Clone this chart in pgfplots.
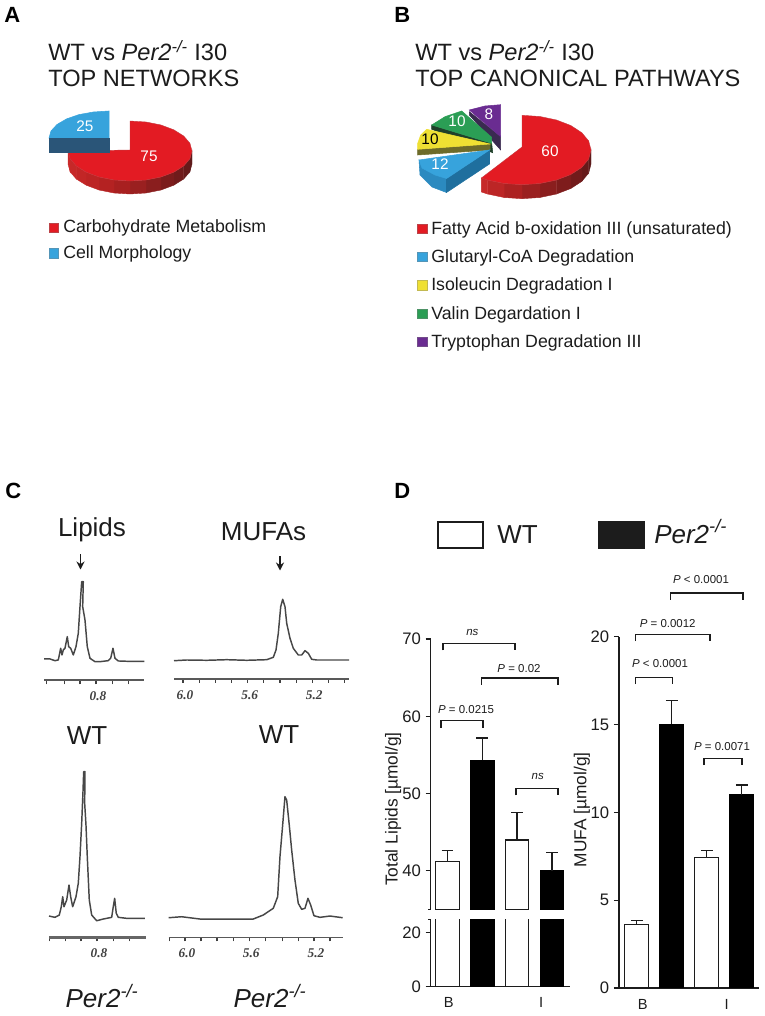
\documentclass[border=0pt]{standalone}
\usepackage{pgfplots}
\pgfplotsset{compat=1.18}
\usepackage{fontspec}
\setmainfont{Liberation Sans}
\newfontfamily\serifbi{Liberation Serif}
\usetikzlibrary{arrows.meta}
\newcommand\fs[1]{\fontsize{#1}{#1}\selectfont}
\newcommand\hx[1]{\definecolor{#1}{HTML}{#1}}
\hx{5E1A1A}\hx{661A1A}\hx{701B1B}\hx{7C1C1C}\hx{8A1E1E}\hx{9A2020}\hx{A82020}\hx{B42222}\hx{BC2424}\hx{C22626}\hx{C62828}\hx{CA2A2A}
\hx{5C1A1A}\hx{721B1B}\hx{7E1C1C}\hx{AC2222}\hx{BC2626}\hx{C62A2A}\hx{2A5578}\hx{3A2A50}\hx{20402A}\hx{6D6B2A}\hx{2B8AC0}\hx{1F6F9E}
\definecolor{ink}{HTML}{1C1C1C}
\definecolor{pred}{HTML}{E31B23}
\definecolor{pblue}{HTML}{37A3DC}
\definecolor{pyel}{HTML}{EFE033}
\definecolor{pgrn}{HTML}{2B9E55}
\definecolor{ppur}{HTML}{6A2C91}
\newcommand\sq[2]{\addplot[fill=#1,draw=#1!60!gray,line width=0.6pt] coordinates {#2} -- cycle;}
\newcommand\ktxt[4]{\node[anchor=base west,inner sep=0,text=ink,font=\fs{#3}] at (axis cs:#1,#2) {#4};}
\newcommand\ctxt[4]{\node[anchor=center,inner sep=0,text=ink,font=\fs{#3}] at (axis cs:#1,#2) {#4};}
\newcommand\brk[1]{\addplot[line width=0.9pt,draw=ink] coordinates {#1};}
\newcommand\strip[2]{\addplot[fill=#1,draw=#1,line width=0.3pt] coordinates {#2} -- cycle;}
\pgfplotsset{
  spectrum/.style={scale only axis,anchor=south west,axis y line=none,axis x line*=bottom,y dir=reverse,
    clip=false,tick align=outside,x tick style={draw=black!75,line width=0.8pt},
    major tick length=3pt,
    xticklabel style={font=\serifbi\bfseries\itshape\fs{10},text=black!75,xshift=1.5pt,yshift=-2pt},
    x axis line style={draw=black!65,line width=1.6pt}},
  spec/.style={line width=1.1pt,draw=black!72,line join=round},
  barax/.style={scale only axis,anchor=south west,ybar,axis y line*=left,tick align=outside,
    y tick style={line width=0.9pt,draw=ink},major tick length=3.8pt,
    y axis line style={line width=1pt,draw=ink},
    yticklabel style={font=\fs{12.5},text=ink},
    /pgf/number format/assume math mode=true},
  wbar/.style={bar shift=0pt,fill=white,draw=ink,line width=1pt},
  kbar/.style={bar shift=0pt,fill=black,draw=black,line width=1pt},
  err/.style={error bars/.cd,y dir=plus,y explicit,
    error bar style={line width=1pt,draw=ink},
    error mark options={rotate=90,mark size=4.4pt,line width=1pt,draw=ink}},
}
\begin{document}
\begin{tikzpicture}
\useasboundingbox (0pt,0pt) rectangle (573pt,762pt);
% ---------- overlay in pixel coordinates
\begin{axis}[at={(0pt,0pt)},anchor=south west,scale only axis,width=573pt,height=762pt,
  xmin=0,xmax=764,ymin=0,ymax=1016,y dir=reverse,hide axis,clip=false]
% Pie A side
\strip{5E1A1A}{(192,151)(189.9,158.8)(189.9,171.8)(192,164)}
\strip{661A1A}{(189.9,158.8)(183.7,166)(183.7,179)(189.9,171.8)}
\strip{701B1B}{(183.7,166)(173.8,172.2)(173.8,185.2)(183.7,179)}
\strip{7C1C1C}{(173.8,172.2)(161,177)(161,190)(173.8,185.2)}
\strip{8A1E1E}{(161,177)(146,180)(146,193)(161,190)}
\strip{9A2020}{(146,180)(130,181)(130,194)(146,193)}
\strip{A82020}{(130,181)(114,180)(114,193)(130,194)}
\strip{B42222}{(114,180)(99,177)(99,190)(114,193)}
\strip{BC2424}{(99,177)(86.2,172.2)(86.2,185.2)(99,190)}
\strip{C22626}{(86.2,172.2)(76.3,166)(76.3,179)(86.2,185.2)}
\strip{C62828}{(76.3,166)(70.1,158.8)(70.1,171.8)(76.3,179)}
\strip{CA2A2A}{(70.1,158.8)(68,151)(68,164)(70.1,171.8)}
% Pie A top red
\addplot[fill=pred,draw=pred!70!gray,line width=0.3pt] coordinates {(130,121)(146,122)(161,125)(173.8,129.8)(183.7,136)(189.9,143.2)(192,151)(189.9,158.8)(183.7,166)(173.8,172.2)(161,177)(146,180)(130,181)(114,180)(99,177)(86.2,172.2)(76.3,166)(70.1,158.8)(68,151)(130,150)} -- cycle;
% Pie A blue
\addplot[fill=pblue,draw=pblue] coordinates {(109,111)(93.5,112)(79,114.6)(66.6,118.9)(57,124.5)(51,131)(49,138)(109,138)} -- cycle;
\addplot[fill=2A5578,draw=2A5578] coordinates {(49,138)(109,138)(109,152)(49,152)} -- cycle;
% Pie B side
\strip{5C1A1A}{(591,150)(588.7,159)(588.7,173)(591,164)}
\strip{661A1A}{(588.7,159)(581.8,167.4)(581.8,181.4)(588.7,173)}
\strip{721B1B}{(581.8,167.4)(570.8,174.5)(570.8,188.5)(581.8,181.4)}
\strip{7E1C1C}{(570.8,174.5)(556.5,180)(556.5,194)(570.8,188.5)}
\strip{8A1E1E}{(556.5,180)(539.9,183.5)(539.9,197.5)(556.5,194)}
\strip{9A2020}{(539.9,183.5)(522,184.7)(522,198.7)(539.9,197.5)}
\strip{AC2222}{(522,184.7)(504.1,183.5)(504.1,197.5)(522,198.7)}
\strip{BC2626}{(504.1,183.5)(487.5,180)(487.5,194)(504.1,197.5)}
\strip{C62A2A}{(487.5,180)(481.4,178)(481.4,192)(487.5,194)}
% Pie B red top
\addplot[fill=pred,draw=pred!70!gray,line width=0.3pt] coordinates {(522,115.3)(539.9,116.5)(556.5,120)(570.8,125.5)(581.8,132.7)(588.7,141)(591,150)(588.7,159)(581.8,167.4)(570.8,174.5)(556.5,180)(539.9,183.5)(522,184.7)(504.1,183.5)(487.5,180)(481.4,178)(522,147)} -- cycle;
% Purple
\addplot[fill=3A2A50,draw=3A2A50] coordinates {(469.3,111.7)(500.7,136.7)(500.7,150)(469.3,115)} -- cycle;
\addplot[fill=ppur,draw=ppur] coordinates {(469.3,110)(485,106)(500.7,104.7)(500.7,136.7)} -- cycle;
% Green
\addplot[fill=20402A,draw=20402A] coordinates {(431.7,125)(491.7,143.3)(492.7,152.7)(431.7,129.3)} -- cycle;
\addplot[fill=pgrn,draw=pgrn] coordinates {(431.7,125)(445,116.7)(461.7,111)(491.7,137.3)(491.7,143.3)} -- cycle;
% Yellow
\addplot[fill=6D6B2A,draw=6D6B2A] coordinates {(417.7,149.3)(490,144)(490,150)(417.7,155)} -- cycle;
\addplot[fill=pyel,draw=pyel] coordinates {(490,144)(426.7,129.3)(420.7,135)(417.7,143.3)(417.7,149.3)} -- cycle;
% Blue
\addplot[fill=2B8AC0,draw=2B8AC0] coordinates {(419,160)(420,175)(432,187)(446.5,192.5)(446.5,178.5)} -- cycle;
\addplot[fill=1F6F9E,draw=1F6F9E] coordinates {(446.5,178.5)(489.5,150)(489.5,164)(446.5,192.5)} -- cycle;
\addplot[fill=pblue,draw=pblue] coordinates {(489.5,150)(419,160)(422,168)(435,175)(446.5,178.5)} -- cycle;
% Pie numbers
\node[text=white,font=\fs{11.5}] at (axis cs:85,126) {25};
\node[text=white,font=\fs{11.5}] at (axis cs:149,156) {75};
\node[text=white,font=\fs{11.5}] at (axis cs:550,151) {60};
\node[text=white,font=\fs{11.5}] at (axis cs:440,164) {12};
\node[text=black,font=\fs{11.5}] at (axis cs:430,139) {10};
\node[text=white,font=\fs{11.5}] at (axis cs:457,121) {10};
\node[text=white,font=\fs{11.5}] at (axis cs:489,114) {8};
% Legend squares
\sq{pred}{(49,223)(58,223)(58,232)(49,232)}
\sq{pblue}{(49,248)(58,248)(58,258)(49,258)}
\sq{pred}{(417,224)(427,224)(427,233)(417,233)}
\sq{pblue}{(417,252)(427,252)(427,261)(417,261)}
\sq{pyel}{(417,280)(427,280)(427,290)(417,290)}
\sq{pgrn}{(417,309)(427,309)(427,318)(417,318)}
\sq{ppur}{(417,337)(427,337)(427,346)(417,346)}
% Panel letters
\node[anchor=base west,inner sep=0,text=black,font=\bfseries\fs{16.5}] at (axis cs:4,23) {A};
\node[anchor=base west,inner sep=0,text=black,font=\bfseries\fs{16.5}] at (axis cs:394,23) {B};
\node[anchor=base west,inner sep=0,text=black,font=\bfseries\fs{16.5}] at (axis cs:5,498) {C};
\node[anchor=base west,inner sep=0,text=black,font=\bfseries\fs{16.5}] at (axis cs:394,498) {D};
% Titles
\ktxt{48}{60.7}{17.7}{WT vs \textit{Per2\textsuperscript{-/-}} I30}
\ktxt{48}{87}{17.7}{TOP NETWORKS}
\ktxt{415}{60.7}{17.7}{WT vs \textit{Per2\textsuperscript{-/-}} I30}
\ktxt{415}{87}{17.7}{TOP CANONICAL PATHWAYS}
% Legends
\ktxt{63}{232.5}{13.3}{Carbohydrate Metabolism}
\ktxt{63}{258.5}{13.3}{Cell Morphology}
\ktxt{431}{234.3}{13.3}{Fatty Acid b-oxidation III (unsaturated)}
\ktxt{431}{262.3}{13.3}{Glutaryl-CoA Degradation}
\ktxt{431}{290.7}{13.3}{Isoleucin Degradation I}
\ktxt{431}{319.3}{13.3}{Valin Degardation I}
\ktxt{431}{347.7}{13.3}{Tryptophan Degradation III}
% Panel C text
\ctxt{92}{530}{19.5}{Lipids}
\ctxt{263.5}{532}{19.5}{MUFAs}
\ctxt{87}{736}{19.5}{WT}
\ctxt{279}{735}{19.5}{WT}
\ctxt{102}{996}{19.5}{\textit{Per2\textsuperscript{-/-}}}
\ctxt{270}{996}{19.5}{\textit{Per2\textsuperscript{-/-}}}
\draw[-{Stealth[length=6pt,width=6pt]},line width=0.9pt,draw=ink] (axis cs:80.5,554) -- (axis cs:80.5,569.5);
\draw[-{Stealth[length=6pt,width=6pt]},line width=0.9pt,draw=ink] (axis cs:280,556) -- (axis cs:280,570.5);
% Panel D legend
\addplot[fill=white,draw=ink,line width=1.5pt] coordinates {(437.5,521.5)(483,521.5)(483,548)(437.5,548)} -- cycle;
\addplot[fill=ink,draw=ink,line width=1.5pt] coordinates {(598.5,521.5)(644,521.5)(644,548)(598.5,548)} -- cycle;
\ktxt{497}{543}{19.5}{WT}
\ktxt{654}{543}{19.5}{\textit{Per2\textsuperscript{-/-}}}
% Brackets left
\brk{(443,650.3)(443,643.7)(515,643.7)(515,650.3)}
\brk{(481.7,684.7)(481.7,678)(558,678)(558,684.7)}
\brk{(441,727.7)(441,720.7)(483,720.7)(483,727.7)}
\brk{(516,795.3)(516,788.3)(558,788.3)(558,795.3)}
\ctxt{472.3}{632.7}{8.6}{\textit{ns}}
\ctxt{519}{668.7}{8.6}{\textit{P} = 0.02}
\ctxt{466}{709.7}{8.6}{\textit{P} = 0.0215}
\ctxt{537.7}{776.7}{8.6}{\textit{ns}}
% Brackets right
\brk{(670.3,599.7)(670.3,593)(743,593)(743,599.7)}
\brk{(635.3,641)(635.3,634.7)(710,634.7)(710,641)}
\brk{(635.3,684)(635.3,677.3)(672.7,677.3)(672.7,684)}
\brk{(704,765)(704,758.3)(742,758.3)(742,765)}
\ctxt{701}{579.3}{8.6}{\textit{P} < 0.0001}
\ctxt{667.7}{623.7}{8.6}{\textit{P} = 0.0012}
\ctxt{660}{664}{8.6}{\textit{P} < 0.0001}
\ctxt{722}{746.7}{8.6}{\textit{P} = 0.0071}
\end{axis}
% ---------- Spectra
\begin{axis}[spectrum,at={(33pt,251.8pt)},width=75.2pt,height=82.7pt,xmin=44,xmax=144.3,ymin=570,ymax=680.3,
  xtick={46.7,64.3,80,96,112.7,128.3},xticklabels={{},{},{},0.8,{},{}}]
\addplot[spec] coordinates {(44,659)(50,659)(55,660.7)(58.3,660)(60.7,648.3)(62,655)(63.3,650)(65,648.3)(67.3,636.7)(68.7,646.7)(70.7,648.3)(73.3,655)(76,646.7)(78.3,633.3)(80,606.7)(81.7,581.7)(83.3,581.7)(82.7,606.7)(85,620)(87.3,646.7)(90,658.3)(95,661.7)(100,661.7)(108.3,660.7)(110.7,658.3)(113,648.3)(115,658.3)(118.3,661)(126.7,661.3)(144.3,661.3)};
\end{axis}
\begin{axis}[spectrum,at={(130.5pt,252.75pt)},width=131.25pt,height=66.75pt,xmin=174,xmax=349,ymin=590,ymax=679,
  xtick={183,199.2,215.3,231.5,247.7,263.8,280,296.2,312.3,328.5,344.7},xticklabels={6.0,{},{},{},5.6,{},{},{},5.2,{},{}}]
\addplot[spec] coordinates {(174,660.7)(186.7,660)(206.7,660.3)(226.7,659.7)(246.7,660.3)(266.7,659.7)(273.3,657.3)(276,650)(278.3,633.3)(280.7,606.7)(282.7,599.3)(285,606.7)(286.7,623.3)(290,638.3)(293.3,648.3)(298.3,655)(301.7,655)(305,650.7)(308.3,653.3)(311.7,659.3)(316.7,660)(333.3,660)(349,660)};
\end{axis}
\begin{axis}[spectrum,at={(36.75pt,59pt)},width=72.5pt,height=133pt,xmin=49,xmax=145.7,ymin=760,ymax=937.3,
  x axis line style={draw=black!60,line width=2.2pt},
  xtick={49.3,65.3,81,97,113.7,129.7},xticklabels={{},{},{},0.8,{},{}}]
\addplot[spec] coordinates {(49,916)(55,917.3)(59.3,915)(61.3,906.7)(62.7,896.7)(64,906.7)(66.7,900)(69,885)(70.7,896.7)(72.7,906.7)(76,896.7)(78.3,883.3)(80,856.7)(81.7,823.3)(83,791.7)(83.7,771.7)(85,771.7)(84.7,803.3)(86,825)(87.3,856.7)(89.3,900)(91.7,915)(96.7,920.7)(103.3,919)(111.7,917.3)(113.3,906.7)(114.7,898.3)(116.3,913.3)(118.3,917.3)(126.7,918.3)(145,918.3)};
\end{axis}
\begin{axis}[spectrum,at={(126.5pt,59pt)},width=130.5pt,height=118pt,xmin=168.7,xmax=342.7,ymin=780,ymax=937.3,
  x axis line style={draw=black!65,line width=0.9pt},
  xtick={169.3,185,201,217,233.3,249.3,265.7,282.3,298.3,314,330},xticklabels={{},6.0,{},{},{},5.6,{},{},{},5.2,{}}]
\addplot[spec] coordinates {(168.7,917.7)(181.7,916.7)(200,919)(226.7,919)(253.3,919)(263.3,915)(273.3,908.3)(277.7,896.7)(280,856.7)(282.7,825)(285,796.7)(286.7,800)(289.3,825)(291.7,850)(295,880)(298.3,903.3)(301.7,909.3)(305,908.3)(308,898.3)(310.7,905)(314,915.7)(320,917.3)(330,916)(342.7,917.7)};
\end{axis}
% ---------- Total lipids: upper part of the broken axis
\begin{axis}[barax,at={(323pt,80pt)},width=104.5pt,height=202.7pt,bar width=17.6pt,
  axis x line=none,xmin=-0.483,xmax=3.52,ymin=35,ymax=70,ytick={40,50,60,70},
  extra y ticks={35},extra y tick labels={},extra y tick style={major tick length=2pt},
  ylabel={Total Lipids [µmol/g]},
  every axis y label/.style={at={(axis description cs:-0.27,0.371)},rotate=90,anchor=center,font=\fs{13},text=ink}]
\addplot[wbar,err] coordinates {(0,41.2)+-(0,1.4) (2,44)+-(0,3.5)};
\addplot[kbar,err] coordinates {(1,54.3)+-(0,2.9) (3,40)+-(0,2.4)};
\end{axis}
% Total lipids: lower part
\begin{axis}[barax,at={(323pt,22pt)},width=104.5pt,height=50.55pt,bar width=17.6pt,
  axis x line*=bottom,x axis line style={line width=1pt,draw=ink},x tick style={draw=none},
  xmin=-0.483,xmax=3.52,ymin=0,ymax=25,ytick={0,20},
  extra y ticks={25},extra y tick labels={},extra y tick style={major tick length=2pt},
  xtick={0.04,2.69},xticklabels={B,I},xticklabel style={font=\fs{11},text=ink,yshift=-1pt}]
\addplot[wbar] coordinates {(0,41.2)(2,44)};
\addplot[kbar] coordinates {(1,54.3)(3,40)};
\end{axis}
% ---------- MUFA
\begin{axis}[barax,at={(464.25pt,21pt)},width=105.2pt,height=263.5pt,bar width=18pt,
  axis x line*=bottom,x axis line style={line width=1pt,draw=ink},x tick style={draw=none},
  xmin=-0.506,xmax=3.503,ymin=0,ymax=20,ytick={0,5,10,15,20},
  xtick={0.17,2.57},xticklabels={B,I},xticklabel style={font=\fs{11},text=ink,yshift=-1pt},
  ylabel={MUFA [µmol/g]},
  every axis y label/.style={at={(axis description cs:-0.264,0.507)},rotate=90,anchor=center,font=\fs{13},text=ink}]
\addplot[wbar,err] coordinates {(0,3.6)+-(0,0.23) (2,7.44)+-(0,0.38)};
\addplot[kbar,err] coordinates {(1,15)+-(0,1.35) (3,11)+-(0,0.56)};
\end{axis}
\end{tikzpicture}
\end{document}
